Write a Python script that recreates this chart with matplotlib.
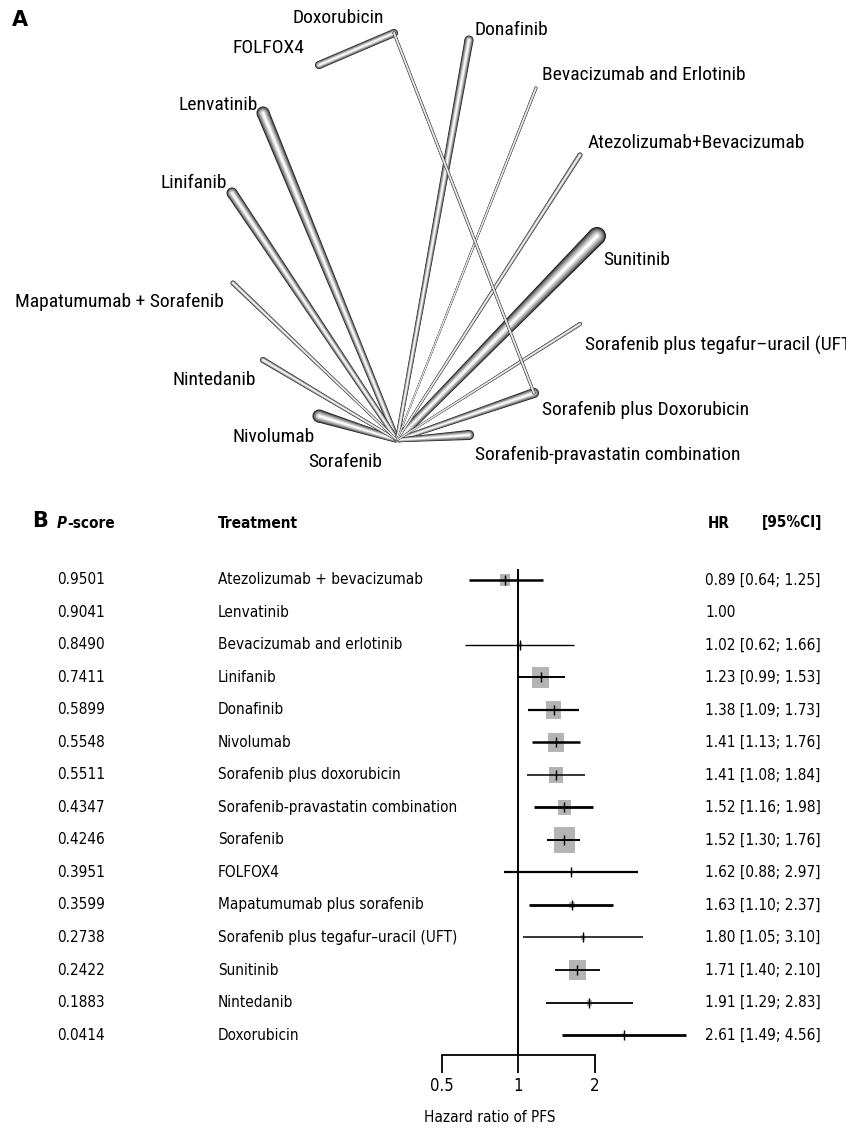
import numpy as np
import matplotlib
matplotlib.use("Agg")
import matplotlib.pyplot as plt
from matplotlib.patches import Polygon, Circle
from matplotlib.transforms import blended_transform_factory
from matplotlib.ticker import NullLocator, FixedLocator, FixedFormatter

# ---------------- Panel A : network ----------------
node_names = ["Sorafenib", "Doxorubicin", "FOLFOX4", "Donafinib",
              "Bevacizumab and Erlotinib", "Atezolizumab+Bevacizumab",
              "Lenvatinib", "Linifanib", "Sunitinib", "Mapatumumab + Sorafenib",
              "Sorafenib plus tegafur\u2013uracil (UFT)", "Nintedanib",
              "Sorafenib plus Doxorubicin", "Nivolumab",
              "Sorafenib-pravastatin combination"]
node_x = [397, 394, 319, 469, 536, 580, 263, 232, 597, 233, 580, 263, 534, 319, 469]
node_y = [440, 33, 65, 40, 88, 155, 113, 193, 236, 283, 324, 360, 393, 416, 435]
label_x = [308, 293, 232, 475, 542, 588, 178, 160, 603, 15, 585, 172, 542, 232, 475]
label_y = [462, 18, 48, 30, 75, 143, 105, 183, 260, 302, 345, 380, 410, 437, 455]

# edges (from, to, width in px)
edge_from = [0, 0, 0, 0, 0, 0, 0, 0, 0, 0, 0, 0, 2, 1]
edge_to = [8, 6, 13, 7, 12, 14, 3, 11, 5, 9, 10, 4, 1, 12]
edge_w = [18, 13, 13, 11, 10, 10, 9, 6, 5, 5, 4, 3, 8, 3]

# ---------------- Panel B : forest plot ----------------
pscore = ["0.9501", "0.9041", "0.8490", "0.7411", "0.5899", "0.5548", "0.5511",
          "0.4347", "0.4246", "0.3951", "0.3599", "0.2738", "0.2422", "0.1883", "0.0414"]
treatment = ["Atezolizumab + bevacizumab", "Lenvatinib", "Bevacizumab and erlotinib",
             "Linifanib", "Donafinib", "Nivolumab", "Sorafenib plus doxorubicin",
             "Sorafenib-pravastatin combination", "Sorafenib", "FOLFOX4",
             "Mapatumumab plus sorafenib", "Sorafenib plus tegafur\u2013uracil (UFT)",
             "Sunitinib", "Nintedanib", "Doxorubicin"]
hr = [0.89, 1.00, 1.02, 1.23, 1.38, 1.41, 1.41, 1.52, 1.52, 1.62, 1.63, 1.80, 1.71, 1.91, 2.61]
ci_lo = [0.64, np.nan, 0.62, 0.99, 1.09, 1.13, 1.08, 1.16, 1.30, 0.88, 1.10, 1.05, 1.40, 1.29, 1.49]
ci_hi = [1.25, np.nan, 1.66, 1.53, 1.73, 1.76, 1.84, 1.98, 1.76, 2.97, 2.37, 3.10, 2.10, 2.83, 4.56]
box_px = [10, 0, 3, 17, 15, 16, 13, 13, 21, 3, 5, 4, 17, 5, 3]
ci_lw = [1.8, 0, 1.0, 1.4, 1.6, 1.8, 1.1, 2.0, 1.4, 1.6, 2.0, 1.1, 1.3, 1.3, 2.0]

W, H = 846, 1128
fig = plt.figure(figsize=(W / 100, H / 100), dpi=100)
fig.patch.set_facecolor("white")

ax = fig.add_axes([0, 0, 1, 1])
ax.set_xlim(0, W)
ax.set_ylim(H, 0)
ax.axis("off")

fontA = dict(family="Roboto Condensed", fontsize=14)
fontB = dict(family="DejaVu Sans", fontstretch="condensed", fontsize=11)

# tube-like edges, thick ones first; edges from the hub taper towards it
n_layers = 8
for k, (a, b, w) in enumerate(zip(edge_from, edge_to, edge_w)):
    p0 = np.array([node_x[a], node_y[a]], float)
    p1 = np.array([node_x[b], node_y[b]], float)
    d = (p1 - p0) / np.hypot(*(p1 - p0))
    nrm = np.array([-d[1], d[0]])
    taper = 0.45 if a == 0 else 1.0
    for j in range(n_layers):
        wj = w * (1 - j / n_layers)
        g = 0.1 + 0.9 * (j / (n_layers - 1)) ** 0.7
        z = 2 + k * 0.1 + j * 0.01
        pts = [p0 + nrm * wj * taper / 2, p1 + nrm * wj / 2,
               p1 - nrm * wj / 2, p0 - nrm * wj * taper / 2]
        ax.add_patch(Polygon(pts, closed=True, facecolor=(g, g, g), edgecolor="none", zorder=z))
        ax.add_patch(Circle(p1, wj / 2, facecolor=(g, g, g), edgecolor="none", zorder=z))
        if taper == 1.0:
            ax.add_patch(Circle(p0, wj / 2, facecolor=(g, g, g), edgecolor="none", zorder=z))

for name, lx, ly in zip(node_names, label_x, label_y):
    ax.text(lx, ly, name, ha="left", va="center", zorder=10, **fontA)

ax.text(12, 20, "A", fontsize=15, fontweight="bold", va="center")
ax.text(32, 521, "B", fontsize=15, fontweight="bold", va="center")

# forest axes
f_left, f_right = 400, 700
f_top, f_bot = 565, 1055
axf = fig.add_axes([f_left / W, 1 - f_bot / H, (f_right - f_left) / W, (f_bot - f_top) / H])
axf.set_xscale("log")
axf.set_xlim(0.343, 5.2)
axf.set_ylim(14.615, -0.46)
axf.patch.set_alpha(0)
for s in ["top", "right", "left"]:
    axf.spines[s].set_visible(False)
axf.spines["bottom"].set_bounds(0.5, 2)
axf.spines["bottom"].set_linewidth(1.3)
axf.xaxis.set_minor_locator(NullLocator())
axf.xaxis.set_major_locator(FixedLocator([0.5, 1, 2]))
axf.xaxis.set_major_formatter(FixedFormatter(["0.5", "1", "2"]))
axf.tick_params(axis="x", length=13, width=1.3, pad=3)
for lab in axf.get_xticklabels():
    lab.set_family("DejaVu Sans")
    lab.set_stretch("condensed")
    lab.set_fontsize(12)
axf.set_yticks([])
axf.axvline(1, color="black", lw=1.4, ymin=0, ymax=0.99)

rows = np.arange(len(treatment))
box_marker = [(-0.42, -0.5), (0.42, -0.5), (0.42, 0.5), (-0.42, 0.5), (-0.42, -0.5)]
for i in rows:
    if np.isnan(ci_lo[i]):
        continue
    axf.plot([ci_lo[i], ci_hi[i]], [i, i], color="black", lw=ci_lw[i], zorder=3,
             solid_capstyle="butt")
    if box_px[i] > 0:
        axf.scatter([hr[i]], [i], marker=box_marker, s=(box_px[i] * 1.2 * 0.72) ** 2,
                    color="#b4b4b4", edgecolors="none", zorder=2)
    axf.scatter([hr[i]], [i], marker="|", s=45, color="black", linewidths=1.0, zorder=4)

tr = blended_transform_factory(ax.transData, axf.transData)
for i in rows:
    axf.text(57, i, pscore[i], transform=tr, va="center", **fontB)
    axf.text(218, i, treatment[i], transform=tr, va="center", **fontB)
    if np.isnan(ci_lo[i]):
        s = f"{hr[i]:.2f}"
    else:
        s = f"{hr[i]:.2f} [{ci_lo[i]:.2f}; {ci_hi[i]:.2f}]"
    axf.text(705, i, s, transform=tr, va="center", **fontB)

hy = 523
p_txt = ax.text(57, hy, "P", fontweight="bold", style="italic", va="center", **fontB)
fig.canvas.draw()
p_right = ax.transData.inverted().transform(
    p_txt.get_window_extent(fig.canvas.get_renderer()))[1][0]
ax.text(p_right, hy, "-score", fontweight="bold", va="center", **fontB)
ax.text(218, hy, "Treatment", fontweight="bold", va="center", **fontB)
ax.text(708, hy, "HR", fontweight="bold", va="center", **fontB)
ax.text(762, hy, "[95%CI]", fontweight="bold", va="center", **fontB)
ax.text(490, 1118, "Hazard ratio of PFS", ha="center", va="center", **fontB)

fig.savefig("out.png", dpi=100, facecolor="white")
